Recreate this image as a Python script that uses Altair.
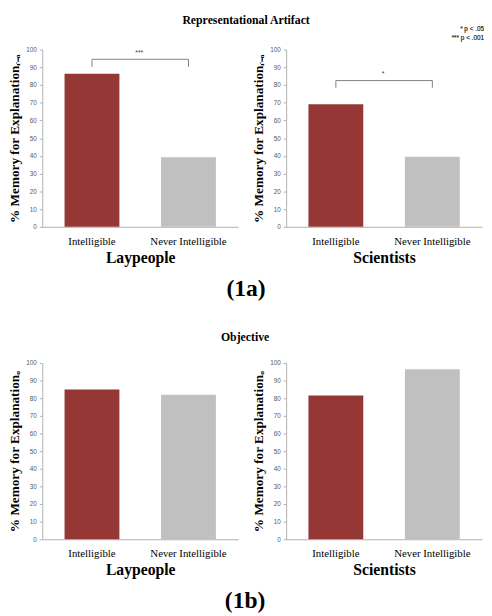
import altair as alt
import pandas as pd

conditions = ["Intelligible", "Never Intelligible"]
bar_colors = ["#953735", "#C0C0C0"]

ra_lay = [86.3, 39.2]
ra_sci = [69.2, 39.5]
obj_lay = [85.0, 82.0]
obj_sci = [81.5, 96.5]

# significance brackets: (top value, tick-bottom value, star label)
ra_lay_sig = (94.5, 90.2, "***")
ra_sci_sig = (82.5, 78.4, "*")

legend_lines = ["* p < .05", "*** p < .001"]

SERIF = "Liberation Serif"
SANS = "Liberation Sans"
W = 200

YSCALE = alt.Scale(domain=[0, 100])
XSCALE = alt.Scale(paddingInner=0.43, paddingOuter=0.23)


def panel(values, group, ytitle, h, sig=None, legend=False):
    xaxis = alt.Axis(
        title=group, labelAngle=0, ticks=False, domainColor="#b0b0b0",
        labelFont=SERIF, labelFontSize=11, labelColor="#000000", labelPadding=9,
        titleFont=SERIF, titleFontSize=16, titleFontWeight="bold",
        titleColor="#000000", titlePadding=3,
    )
    yaxis = alt.Axis(
        title=ytitle, values=list(range(0, 101, 10)), grid=False,
        domainColor="#b0b0b0", tickColor="#b0b0b0", tickSize=3,
        labelFont=SANS, labelFontSize=6.5, labelColor="#595959", labelPadding=3,
        titleFont=SERIF, titleFontSize=13.5, titleFontWeight="bold",
        titleColor="#000000", titlePadding=4,
    )

    def X():
        return alt.X("cond:N", sort=conditions, scale=XSCALE, axis=xaxis)

    def Y():
        return alt.Y("val:Q", scale=YSCALE, axis=yaxis)

    df = pd.DataFrame({"cond": conditions, "val": values})
    bars = alt.Chart(df).mark_bar(size=56).encode(
        x=X(), y=Y(),
        color=alt.Color("cond:N", scale=alt.Scale(domain=conditions, range=bar_colors), legend=None),
    )
    layers = [bars]
    if sig is not None:
        top, bot, star = sig
        hdf = pd.DataFrame({"cond": [conditions[0]], "cond2": [conditions[1]], "val": [top]})
        vdf = pd.DataFrame({"cond": conditions, "val": [top, top], "val2": [bot, bot]})
        layers.append(
            alt.Chart(hdf).mark_rule(color="#808080", strokeWidth=1).encode(
                x=X(), x2="cond2:N", y=Y())
        )
        layers.append(
            alt.Chart(vdf).mark_rule(color="#808080", strokeWidth=1).encode(
                x=X(), y=Y(), y2="val2:Q")
        )
        sdf = pd.DataFrame({"t": [star], "val": [top + 2.0]})
        layers.append(
            alt.Chart(sdf).mark_text(font=SANS, fontSize=7, color="#404040", baseline="bottom").encode(
                x=alt.value(W / 2 - 1), y=Y(), text="t:N")
        )
    if legend:
        for i, line in enumerate(legend_lines):
            layers.append(
                alt.Chart(df).mark_text(font=SANS, fontSize=6.5, color="#404040", align="right",
                                        baseline="middle").encode(
                    x=alt.value(W + 2), y=alt.value(-21 + 9 * i), text=alt.value(line))
            )
    return alt.layer(*layers).properties(width=W, height=h)


sub_ra = "Explanation\u1d63\u208b\u2090"
sub_o = "Explanation\u2092"

row1 = alt.hconcat(
    panel(ra_lay, "Laypeople", "% Memory for " + sub_ra, 181, ra_lay_sig),
    panel(ra_sci, "Scientists", "% Memory for " + sub_ra, 181, ra_sci_sig, legend=True),
    spacing=14,
).properties(title=alt.TitleParams("Representational Artifact", font=SERIF, fontSize=12,
                                    fontWeight="bold", color="#000000", offset=-1, anchor="middle"))
row1 = alt.vconcat(row1).properties(
    title=alt.TitleParams("(1a)", orient="bottom", font=SERIF, fontSize=24, fontWeight="bold",
                          color="#000000", offset=13, anchor="middle"))

row2 = alt.hconcat(
    panel(obj_lay, "Laypeople", "% Memory for " + sub_o, 180),
    panel(obj_sci, "Scientists", "% Memory for " + sub_o, 180),
    spacing=14,
).properties(title=alt.TitleParams("Objective", font=SERIF, fontSize=12,
                                    fontWeight="bold", color="#000000", offset=16, anchor="middle"))
row2 = alt.vconcat(row2).properties(
    title=alt.TitleParams("(1b)", orient="bottom", font=SERIF, fontSize=24, fontWeight="bold",
                          color="#000000", offset=12, anchor="middle"))

chart = alt.vconcat(row1, row2, spacing=31).configure_view(stroke=None).properties(
    padding={"left": 0, "top": 0, "right": 0, "bottom": 0}, background="white")

chart.save("out.html", embed_options={"renderer": "svg", "actions": False})
